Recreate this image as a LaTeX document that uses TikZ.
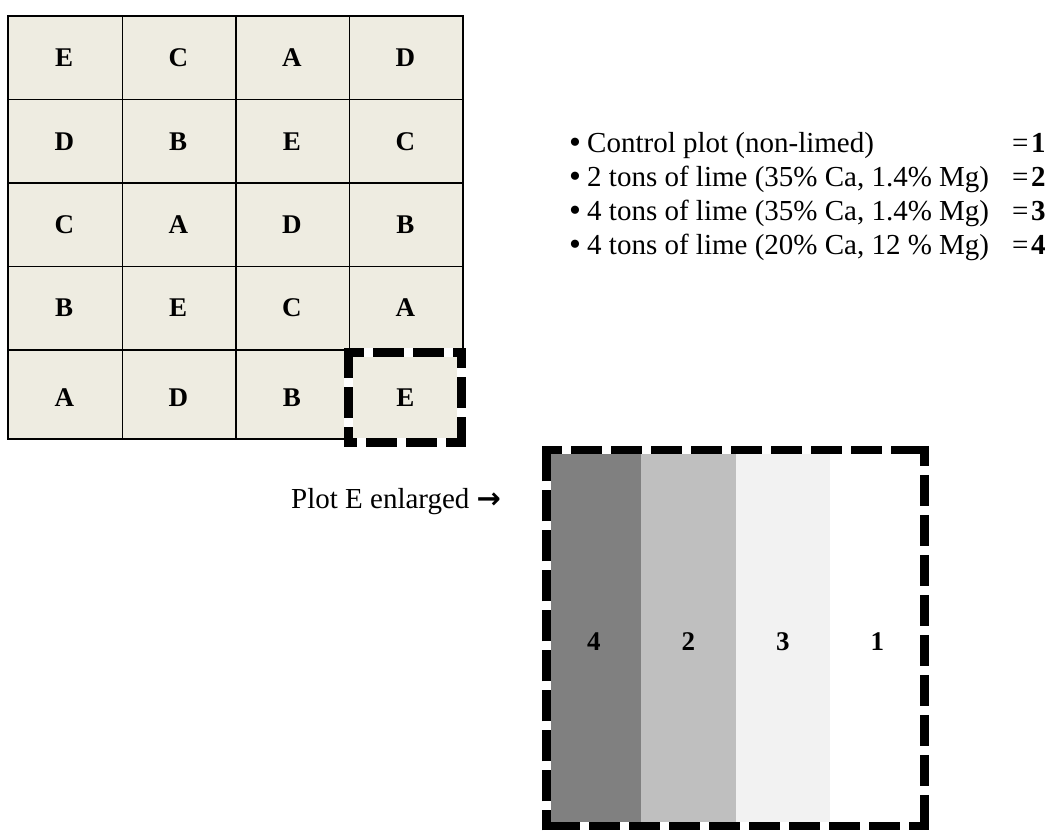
\documentclass[tikz,border=0pt]{standalone}
\usepackage{fontspec}
\setmainfont{Liberation Serif}
\newfontfamily\arrowfont{DejaVu Sans}
\definecolor{plotbg}{HTML}{EEECE1}
% white band under a dashed plot frame, then its four dashed sides, clockwise
\newcommand\plotframe[2]{%
  \draw[framewhite] (#1) rectangle (#2);
  \draw[frameside] (#1) -- (#1 -| #2);
  \draw[frameside] (#1 -| #2) -- (#2);
  \draw[frameside] (#2) -- (#2 -| #1);
  \draw[frameside] (#2 -| #1) -- (#1);
}
\begin{document}
\begin{tikzpicture}[x=1pt, y=-1pt,
  plotcell/.style={draw=black, line width=1.8pt, fill=plotbg, inner sep=0pt, anchor=north west},
  plotletter/.style={font=\fontsize{27}{30}\selectfont\bfseries, inner sep=0pt},
  strip/.style={inner sep=0pt, anchor=north west, minimum width=94.5pt, minimum height=376pt},
  stripnum/.style={font=\fontsize{27}{30}\selectfont\bfseries, inner sep=0pt},
  bodytext/.style={font=\fontsize{29}{33}\selectfont, inner sep=0pt, anchor=base west},
  framewhite/.style={draw=white, line width=8.5pt},
  frameside/.style={draw=black, line width=8.5pt, dash pattern=on 31pt off 9pt, dash phase=11pt, shorten <=-4.25pt},
]
\useasboundingbox (0,0) rectangle (1056,830);

% field layout: 5 rows x 4 columns of plots
\foreach \r/\ya/\yb/\ly/\la/\lb/\lc/\ld in {
  1/15/98.5/57.5/E/C/A/D,
  2/98.5/182/141.5/D/B/E/C,
  3/182/265.5/224.5/C/A/D/B,
  4/265.5/349/308/B/E/C/A,
  5/349/438/397.5/A/D/B/E}{
  \foreach \c/\xa/\xb/\lt in {1/7/121.5/\la, 2/121.5/235/\lb, 3/235/348.5/\lc, 4/348.5/462/\ld}{
    \ifnum\r\c=54
      \node[plotcell, draw=none, minimum width={\xb pt-\xa pt}, minimum height={\yb pt-\ya pt}] (cell-\r-\c) at (\xa,\ya) {};
    \else
      \node[plotcell, minimum width={\xb pt-\xa pt}, minimum height={\yb pt-\ya pt}] (cell-\r-\c) at (\xa,\ya) {};
    \fi
    \node[plotletter] (letter-\r-\c) at ({(\xa+\xb)/2},\ly) {\lt};
  }
}

% highlighted plot E
\coordinate (eNW) at (348.5,352.5);
\coordinate (eSE) at (461.5,442.5);
\plotframe{eNW}{eSE}

% legend
\foreach \i/\y/\txt/\val in {
  1/152/{Control plot (non-limed)}/1,
  2/186/{2 tons of lime (35\% Ca, 1.4\% Mg)}/2,
  3/220/{4 tons of lime (35\% Ca, 1.4\% Mg)}/3,
  4/254/{4 tons of lime (20\% Ca, 12 \% Mg)}/4}{
  \node[bodytext, font=\fontsize{34}{34}\selectfont] (bullet-\i) at (569,\y+1) {\textbullet};
  \node[bodytext] (legend-\i) at (587,\y) {\txt};
  \node[bodytext] (value-\i) at (1012,\y) {=\kern2.5pt\textbf{\val}};
}

% enlarged plot E with its four treatment strips
\node[bodytext] (plotlabel) at (291,508) {Plot E enlarged {\arrowfont\bfseries →}};
\node[strip, fill=black!50] (s4) at (546.5,450) {};
\node[strip, fill=black!25] (s2) at (641,450) {};
\node[strip, fill=black!5]  (s3) at (735.5,450) {};
\node[strip, fill=white]    (s1) at (830,450) {};
\node[stripnum] (n4) at (593.75,642) {4};
\node[stripnum] (n2) at (688.25,642) {2};
\node[stripnum] (n3) at (782.75,642) {3};
\node[stripnum] (n1) at (877.25,642) {1};
\coordinate (bNW) at (546.5,450);
\coordinate (bSE) at (924.5,826);
\plotframe{bNW}{bSE}
\end{tikzpicture}
\end{document}
